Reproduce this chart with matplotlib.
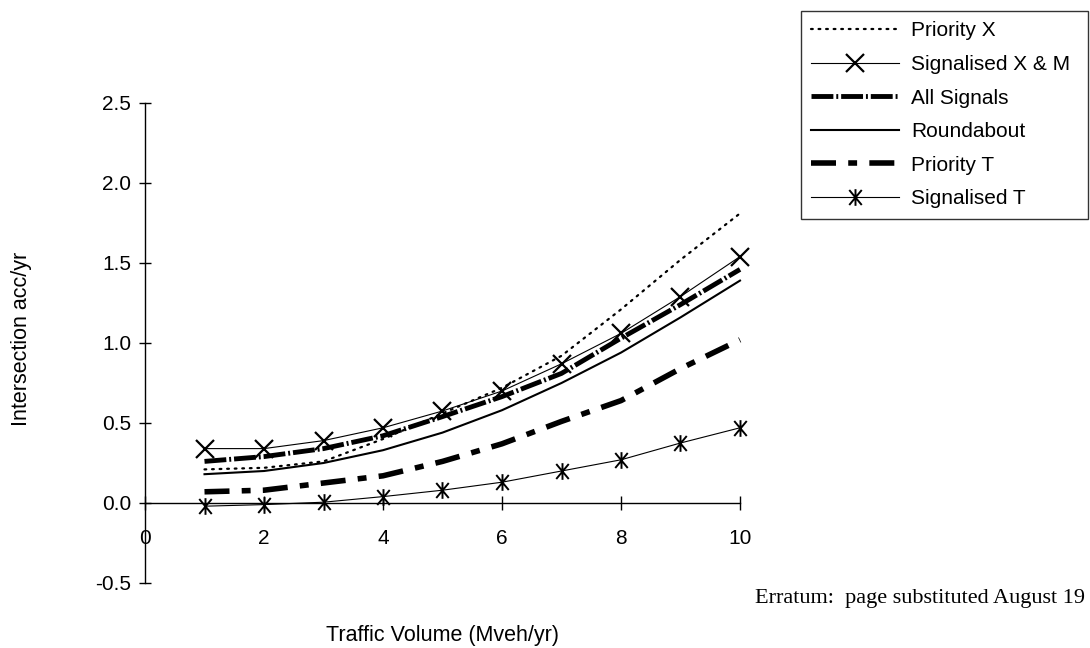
import matplotlib
matplotlib.use("Agg")
import matplotlib.pyplot as plt
from matplotlib.path import Path

plt.rcParams['font.family'] = ['Liberation Sans', 'DejaVu Sans']

volume = [1, 2, 3, 4, 5, 6, 7, 8, 9, 10]
priority_x = [0.21, 0.22, 0.26, 0.40, 0.56, 0.72, 0.92, 1.21, 1.52, 1.81]
signal_xm = [0.34, 0.34, 0.39, 0.47, 0.575, 0.70, 0.87, 1.06, 1.29, 1.54]
all_signals = [0.26, 0.29, 0.34, 0.42, 0.54, 0.665, 0.81, 1.03, 1.24, 1.46]
roundabout = [0.18, 0.20, 0.25, 0.33, 0.44, 0.58, 0.75, 0.94, 1.16, 1.39]
priority_t = [0.07, 0.08, 0.125, 0.17, 0.26, 0.37, 0.51, 0.64, 0.84, 1.02]
signal_t = [-0.02, -0.01, 0.005, 0.04, 0.08, 0.13, 0.20, 0.27, 0.375, 0.47]

xticks = [0, 2, 4, 6, 8, 10]
yticks = [-0.5, 0.0, 0.5, 1.0, 1.5, 2.0, 2.5]

# asterisk with a vertical bar, like the scanned marker
star = Path([(0, -1), (0, 1), (-0.75, -0.9), (0.75, 0.9), (-0.75, 0.9), (0.75, -0.9)],
            [Path.MOVETO, Path.LINETO, Path.MOVETO, Path.LINETO, Path.MOVETO, Path.LINETO])

fig = plt.figure(figsize=(10.9, 6.48), dpi=100)
ax = fig.add_axes([145/1090, 65/648, 595/1090, 480/648])

ax.plot(volume, priority_x, color='black', lw=1.6, linestyle=(0, (0.8, 2.6)),
        dash_capstyle='round', label='Priority X', clip_on=False)
ax.plot(volume, signal_xm, color='black', lw=0.8, marker='x', markersize=13,
        markeredgewidth=1.6, label='Signalised X & M', clip_on=False)
ax.plot(volume, all_signals, color='black', lw=3.5, linestyle=(0, (4.5, 0.6, 0.4, 0.6)),
        label='All Signals', clip_on=False)
ax.plot(volume, roundabout, color='black', lw=1.5, label='Roundabout', clip_on=False)
ax.plot(volume, priority_t, color='black', lw=4, linestyle=(0, (4.5, 2.2, 1.6, 2.2)),
        label='Priority T', clip_on=False)
ax.plot(volume, signal_t, color='black', lw=0.8, marker=star, markersize=12,
        markeredgewidth=1.4, markerfacecolor='none', label='Signalised T', clip_on=False)

ax.set_xlim(0, 10)
ax.set_ylim(-0.5, 2.5)
ax.set_xticks(xticks)
ax.set_yticks(yticks)
ax.set_yticklabels(['%.1f' % v for v in yticks])

ax.spines['top'].set_visible(False)
ax.spines['right'].set_visible(False)
ax.spines['bottom'].set_position(('data', 0))
ax.spines['left'].set_linewidth(1)
ax.spines['bottom'].set_linewidth(1)
ax.tick_params(axis='x', direction='inout', length=10, width=1, pad=14, labelsize=15)
ax.tick_params(axis='y', direction='inout', length=8, width=1, pad=6, labelsize=15)

fig.text(22/1090, 1 - 339/648, 'Intersection acc/yr', rotation=90, ha='center',
         va='center', fontsize=15.5)
fig.text(442/1090, 1 - 636/648, 'Traffic Volume (Mveh/yr)', ha='center', va='center',
         fontsize=15.5)
fig.text(755/1090, 1 - 598/648, 'Erratum:  page substituted August 19', ha='left',
         va='center', fontsize=16, family='Liberation Serif')

leg = ax.legend(loc='upper left', bbox_to_anchor=(801/1090, 1 - 228/648, 287/1090, 217/648),
                bbox_transform=fig.transFigure, mode='expand', frameon=True, fancybox=False,
                edgecolor='black', fontsize=15, handlelength=4.2, labelspacing=0.7,
                borderpad=0.5, handletextpad=0.6, borderaxespad=0)
leg.get_frame().set_linewidth(1)

fig.savefig('out.png', dpi=100)
